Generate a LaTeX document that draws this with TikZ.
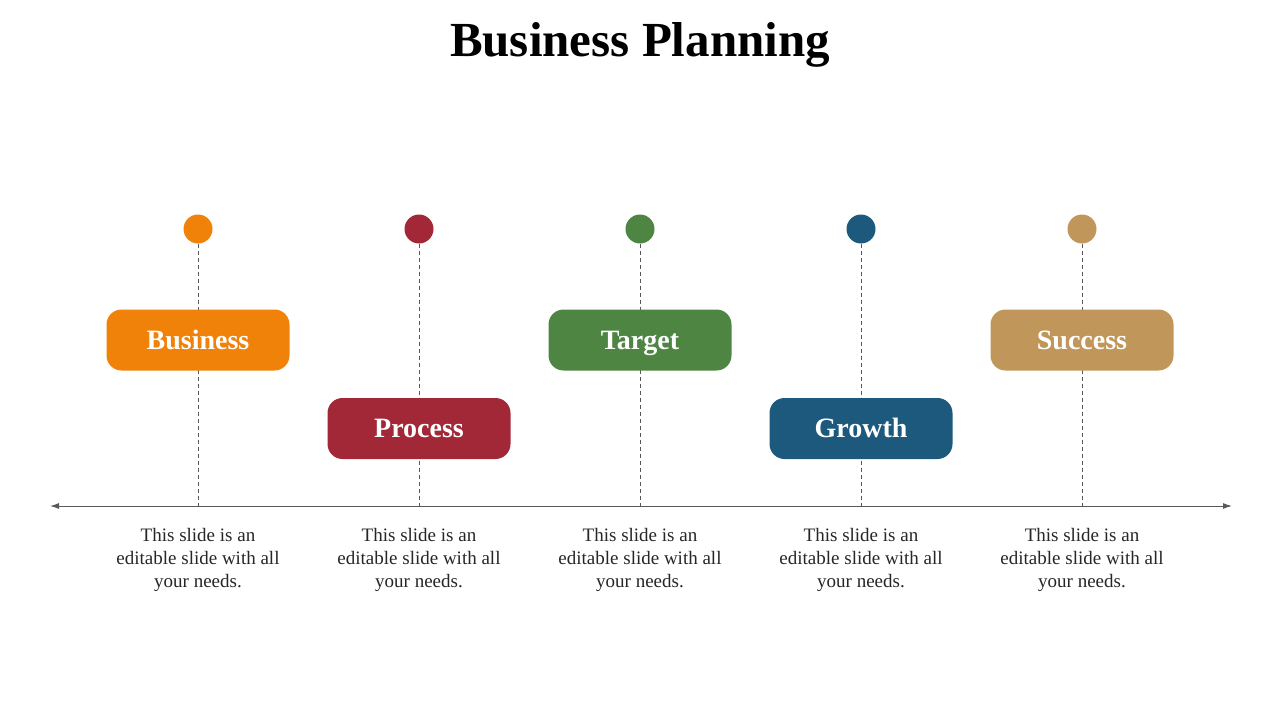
\documentclass[tikz,border=0pt]{standalone}
\usepackage{fontspec}
\setmainfont{Liberation Serif}
\usetikzlibrary{arrows.meta}
\definecolor{cOr}{HTML}{F0820A}
\definecolor{cRd}{HTML}{A22837}
\definecolor{cGr}{HTML}{4E8542}
\definecolor{cBl}{HTML}{1D597D}
\definecolor{cTn}{HTML}{C0965A}
\definecolor{axisgray}{HTML}{595959}
\definecolor{txtgray}{HTML}{262626}
\tikzset{
  dot/.style={circle,fill=#1,minimum size=29pt,inner sep=0pt},
  labelbox/.style={rounded corners=15pt,fill=#1,minimum width=183pt,minimum height=61pt,inner sep=0pt,
    text=white,font=\fontsize{28}{32}\selectfont\bfseries,text height=18pt,text depth=0pt},
  stem/.style={draw=axisgray,line width=0.8pt,dash pattern=on 4pt off 3pt},
  desc/.style={align=center,text=txtgray,font=\fontsize{19}{23}\selectfont},
  axisline/.style={draw=axisgray,line width=1pt,{Latex[length=9pt,width=6pt]}-{Latex[length=9pt,width=6pt]}}
}
\begin{document}
\begin{tikzpicture}[x=1pt,y=-1pt]
\useasboundingbox (0,0) rectangle (1280,720);
\node[font=\fontsize{49}{54}\selectfont\bfseries] (title) at (640,45) {Business Planning};
\coordinate (aL) at (50,506);
\coordinate (aR) at (1232,506);
\draw[axisline] (aL) -- (aR);
\foreach \i/\x in {1/198,2/419,3/640,4/861,5/1082}{
  \coordinate (b\i) at (\x,506);
}
\node[dot=cOr] (d1) at (198,229) {};
\node[dot=cRd] (d2) at (419,229) {};
\node[dot=cGr] (d3) at (640,229) {};
\node[dot=cBl] (d4) at (861,229) {};
\node[dot=cTn] (d5) at (1082,229) {};
\foreach \i in {1,...,5}{ \draw[stem] (d\i.south) -- (b\i); }
\node[labelbox=cOr] (l1) at (198,340) {Business};
\node[labelbox=cRd] (l2) at (419,428.5) {Process};
\node[labelbox=cGr] (l3) at (640,340) {Target};
\node[labelbox=cBl] (l4) at (861,428.5) {Growth};
\node[labelbox=cTn] (l5) at (1082,340) {Success};
\foreach \i/\x in {1/198,2/419,3/640,4/861,5/1082}{
  \node[desc,anchor=north] (p\i) at (\x,525) {This slide is an\\editable slide with all\\your needs.};
}
\end{tikzpicture}
\end{document}
